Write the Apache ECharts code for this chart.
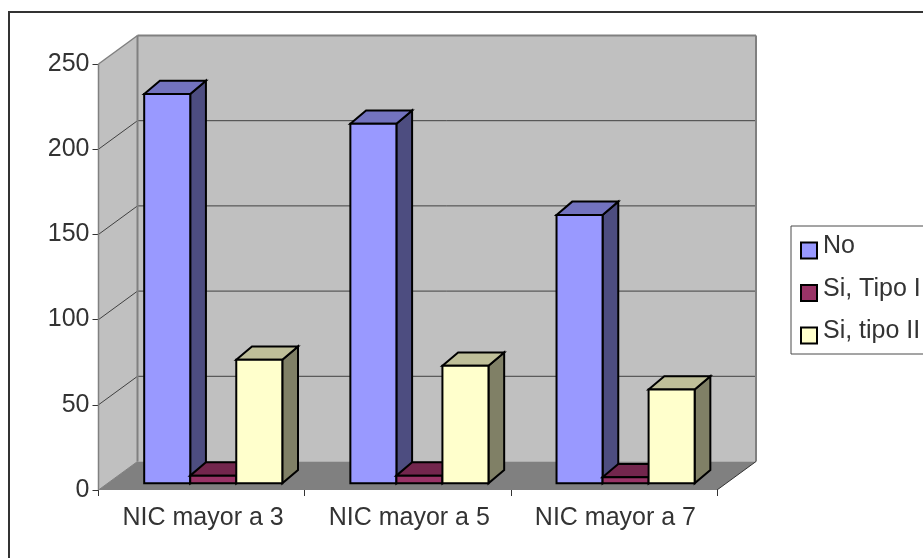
<!DOCTYPE html>
<html><head><meta charset="utf-8">
<style>html,body{margin:0;padding:0;background:#fff}#c{width:923px;height:558px}</style>
<script src="https://cdn.jsdelivr.net/npm/echarts@6/dist/echarts.min.js"></script>
</head><body><div id="c"></div>
<script>
const categories = ['NIC mayor a 3','NIC mayor a 5','NIC mayor a 7'];
const seriesNames = ['No','Si, Tipo I','Si, tipo II'];
const valuesNo = [228.5, 211, 157.5];
const valuesTipoI = [4.5, 4.5, 3.5];
const valuesTipoII = [72.5, 69, 55];
const yTicks = [0,50,100,150,200,250];

const faceFront = ['#9999FF','#993366','#FFFFCC'];
const faceTop = ['#7373BF','#73264D','#BFBF99'];
const faceSide = ['#4D4D80','#4D1A33','#808066'];

const WALL_DX = 39, WALL_DY = -28.5;       // chart depth
const FRONT = 0.235;                       // where the bars stand in the chart depth
const BAR_DX = 15.7, BAR_DY = -13.3;       // depth of one bar
const BAR_SHIFT = 2.5;
const FONT = '"Liberation Sans", Arial, sans-serif';
// legend swatch sits a little below the middle of its text line
const SWATCH_ICON = 'path://M0 0L0 0M0 8H16V24H0Z';

function proj(p, d){ return [p[0] + WALL_DX*d, p[1] + WALL_DY*d]; }
function deep(p){ return [p[0] + BAR_DX, p[1] + BAR_DY]; }

function poly(points, fill, stroke, lw){
  return {type:'polygon', shape:{points}, style:{fill, stroke: stroke||'none', lineWidth: lw||0, lineJoin:'miter'}};
}
function seg(a,b,color,lw){
  return {type:'line', shape:{x1:a[0],y1:a[1],x2:b[0],y2:b[1]}, style:{stroke:color,lineWidth:lw,fill:null}};
}

function renderWalls(params, api){
  const cs = params.coordSys;
  const xL = cs.x, xR = cs.x + cs.width;
  const y0 = api.coord([0,0])[1], yT = api.coord([0,250])[1];
  const kids = [];
  const g = '#808080';
  kids.push(poly([proj([xL,yT],1),proj([xR,yT],1),proj([xR,y0],1),proj([xL,y0],1)],'#C0C0C0'));
  kids.push(poly([[xL,yT],proj([xL,yT],1),proj([xL,y0],1),[xL,y0]],'#C0C0C0'));
  kids.push(poly([[xL,y0],proj([xL,y0],1),proj([xR,y0],1),[xR,y0]],'#808080'));
  yTicks.forEach(t=>{
    if(t===0||t===250) return;
    const y = api.coord([0,t])[1];
    kids.push(seg([xL,y],proj([xL,y],1),'#404040',1));
    kids.push(seg(proj([xL,y],1),proj([xR,y],1),'#404040',1));
  });
  kids.push(seg(proj([xL,yT],1),proj([xR,yT],1),g,2));
  kids.push(seg(proj([xL,yT],1),proj([xL,y0],1),g,2));
  kids.push(seg(proj([xR,yT],1),proj([xR,y0],1),g,2));
  kids.push(seg([xL,yT],proj([xL,yT],1),g,1.5));
  kids.push(seg([xL,y0],[xL,yT],g,1.5));
  kids.push(seg([xL,y0],proj([xL,y0],1),g,1));
  kids.push(seg([xR,y0],proj([xR,y0],1),'#333',1));
  return {type:'group', children:kids};
}

function barRenderer(idx){
  return function(params, api){
    const cat = api.value(0), val = api.value(1);
    const band = api.size([1,0])[0];
    const w = band * 0.2233;
    const c = api.coord([cat,0]);
    const t = api.coord([cat,val]);
    const x0 = c[0] + BAR_SHIFT - w*1.5 + idx*w, x1 = x0 + w;
    const fb0 = proj([x0,c[1]],FRONT), fb1 = proj([x1,c[1]],FRONT);
    const ft0 = proj([x0,t[1]],FRONT), ft1 = proj([x1,t[1]],FRONT);
    const bb1 = deep(fb1), bt0 = deep(ft0), bt1 = deep(ft1);
    const k = '#000', lw = 2;
    return {type:'group', children:[
      poly([ft1,bt1,bb1,fb1],faceSide[idx],k,lw),
      poly([ft0,bt0,bt1,ft1],faceTop[idx],k,lw),
      poly([ft0,ft1,fb1,fb0],faceFront[idx],k,lw)
    ]};
  };
}

const chart = echarts.init(document.getElementById('c'), null, {renderer:'canvas'});
const rows = arr => arr.map((v,i)=>[i,v]);
const allValues = [valuesNo, valuesTipoI, valuesTipoII];

chart.setOption({
  animation:false,
  backgroundColor:'#fff',
  graphic:{elements:[
    {type:'line', z:100, shape:{x1:9,y1:12,x2:923,y2:12}, style:{stroke:'#333',lineWidth:2}},
    {type:'line', z:100, shape:{x1:9,y1:11,x2:9,y2:558}, style:{stroke:'#333',lineWidth:2}}
  ]},
  grid:{left:98.5, top:64, width:618.5, height:426, containLabel:false},
  xAxis:{type:'category', data:categories, boundaryGap:true,
    axisLine:{show:false},
    axisTick:{show:true, length:6, alignWithLabel:false, lineStyle:{color:'#333',width:1}},
    axisLabel:{color:'#333', fontFamily:FONT, fontSize:25, margin:16, interval:0, hideOverlap:false, padding:[0,0,0,3]}},
  yAxis:{type:'value', min:0, max:250, interval:50,
    axisLine:{show:false},
    axisTick:{show:true, length:6, lineStyle:{color:'#333',width:1}},
    splitLine:{show:false},
    axisLabel:{color:'#333', fontFamily:FONT, fontSize:25, margin:9}},
  legend:{show:true, left:791, top:226, orient:'vertical', padding:[7.5,30,9.5,9],
    data:seriesNames, icon:SWATCH_ICON, itemWidth:16, itemHeight:24, itemGap:16.5,
    borderColor:'#4a4a4a', borderWidth:1,
    textStyle:{color:'#333', fontFamily:FONT, fontSize:25, lineHeight:25, padding:[0,0,0,1]},
    selectedMode:false},
  series:[
    {type:'custom', name:'walls', silent:true, z:1, clip:false, data:[[0,0]], encode:{x:0,y:1}, renderItem:renderWalls},
    ...seriesNames.map((n,i)=>({
      type:'custom', name:n, z:2+i, clip:false, silent:true,
      data:rows(allValues[i]), encode:{x:0,y:1},
      itemStyle:{color:faceFront[i], borderColor:'#000', borderWidth:2},
      renderItem:barRenderer(i)
    }))
  ]
});
</script></body></html>
